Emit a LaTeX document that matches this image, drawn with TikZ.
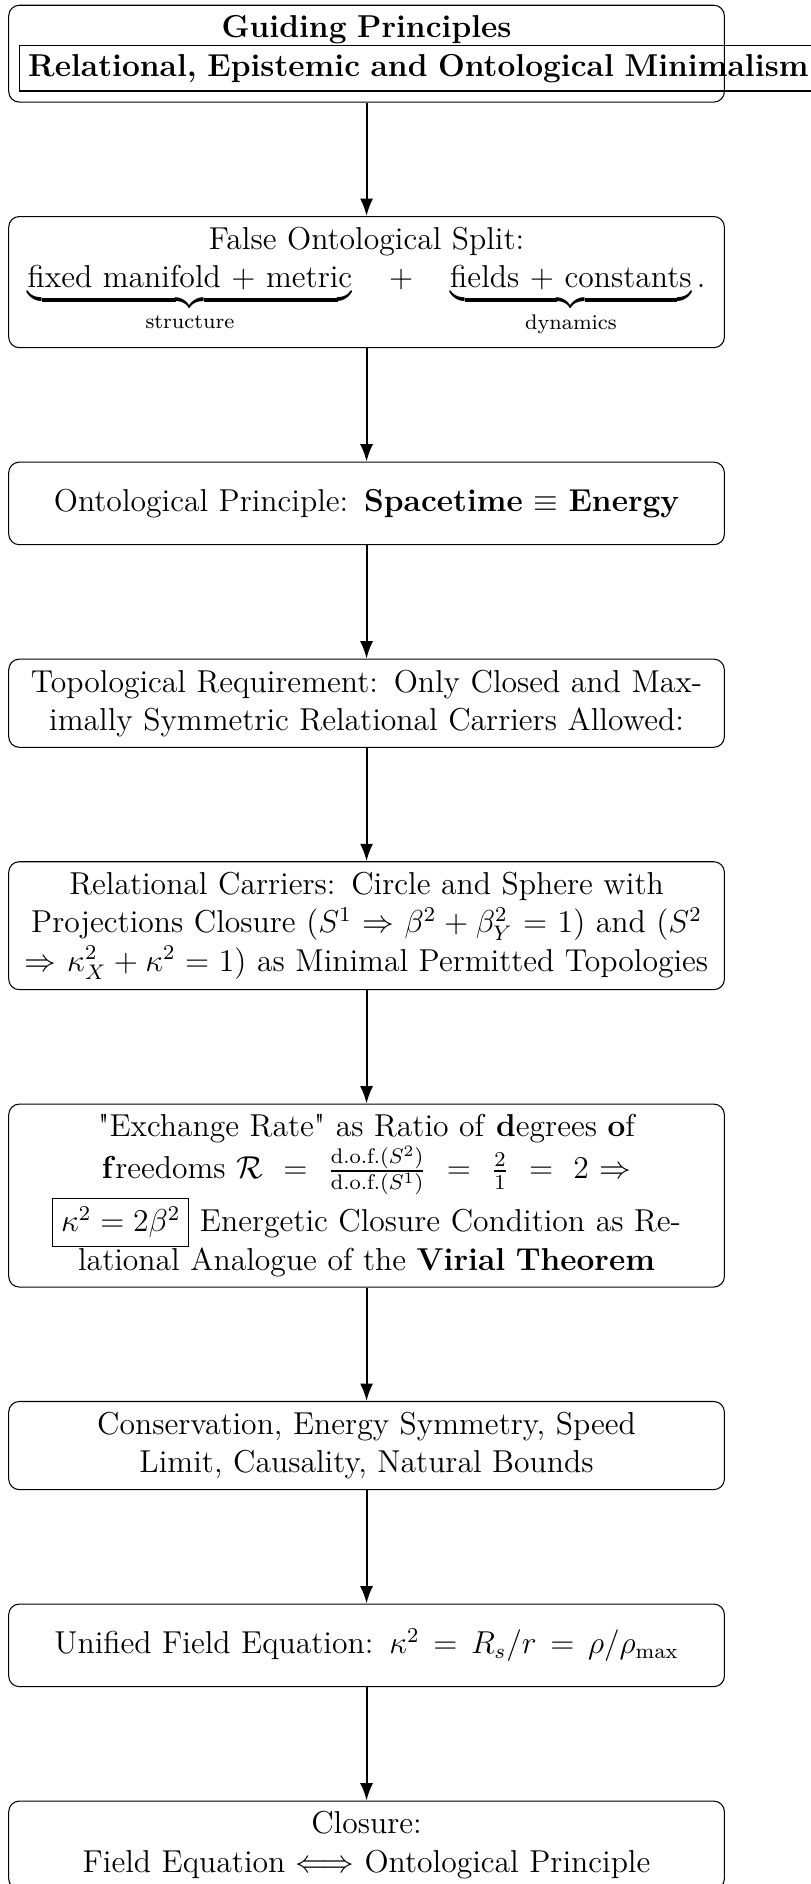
\documentclass[12pt,tikz,border=0pt]{standalone}
\usepackage{amsmath}
\usepackage{amssymb}
\usetikzlibrary{positioning,arrows.meta}

\begin{document}
\begin{tikzpicture}[blockbox/.style={
                draw, rectangle, rounded corners,
                text width=9.25cm, align=center,
                minimum height=1.1cm
            },
            flowarrow/.style={-Latex, thick},
            node distance=1.51cm]
            \useasboundingbox (-138.9pt,1.8pt) rectangle (168.4pt,-712.1pt);
            \node (guide) [blockbox, anchor=north] at (0,0) {\textbf{Guiding Principles}\\
                \fbox{\textbf{Relational, Epistemic and Ontological Minimalism}}};
            \node (split) [blockbox, below=of guide] {False Ontological Split:\\
                $\underbrace{\text{fixed manifold + metric}}_{\text{structure}} \quad + \quad
                \underbrace{\text{fields + constants}}_{\text{dynamics}}.$};
            \node (onto) [blockbox, below=of split] {Ontological Principle: \textbf{Spacetime} $\equiv$ \textbf{Energy}};
            \node (topo) [blockbox, below=of onto] {Topological Requirement: Only Closed and Maximally Symmetric Relational Carriers Allowed:};
            \node (carriers) [blockbox, below=of topo] {Relational Carriers: Circle and Sphere with Projections Closure ($S^1$ $\Rightarrow$ $\beta^2 + \beta_Y^2 = 1$) and ($S^2$ $\Rightarrow$ $\kappa_X^2 + \kappa^2 = 1$) as Minimal Permitted Topologies};
            \node (rate) [blockbox, below=of carriers] {\textquotedbl Exchange Rate\textquotedbl{} as Ratio of \textbf{d}egrees \textbf{o}f \textbf{f}reedoms $\mathcal{R} = \frac{\text{d.o.f.}(S^2)}{\text{d.o.f.}(S^1)} = \frac{2}{1} = 2$ $\Rightarrow$ \fbox{$\kappa^2 = 2\beta^2$} Energetic Closure Condition as Re-\\lational Analogue of the \textbf{Virial Theorem}};
            \node (conserv) [blockbox, below=of rate] {Conservation, Energy Symmetry, Speed Limit, Causality, Natural Bounds};
            \node (fieldeq) [blockbox, below=of conserv] {Unified Field Equation: $\kappa^2 = R_s/r = \rho/\rho_{\max}$};
            \node (closure) [blockbox, below=of fieldeq] {Closure:\\ Field Equation $\Longleftrightarrow$ Ontological Principle};

            \draw[flowarrow] (guide) -- (split);
            \draw[flowarrow] (split) -- (onto);
            \draw[flowarrow] (onto) -- (topo);
            \draw[flowarrow] (topo) -- (carriers);
            \draw[flowarrow] (carriers) -- (rate);
            \draw[flowarrow] (rate) -- (conserv);
            \draw[flowarrow] (conserv) -- (fieldeq);
            \draw[flowarrow] (fieldeq) -- (closure);
\end{tikzpicture}
\end{document}
